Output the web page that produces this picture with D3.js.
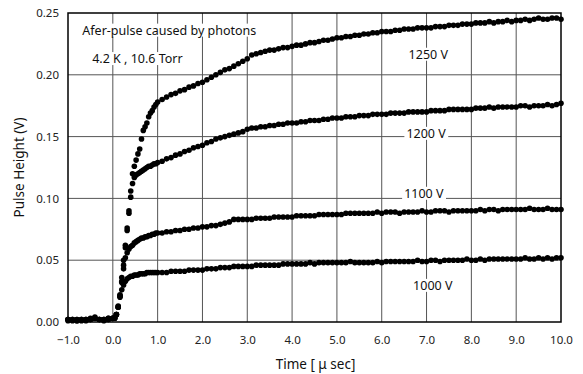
<!DOCTYPE html>
<html>
<head>
<meta charset="utf-8">
<script src="https://cdn.jsdelivr.net/npm/d3@7"></script>
<style>
  body { margin: 0; background: #fff; }
  svg { display: block; font-family: "Noto Sans", "Open Sans", sans-serif; }
</style>
</head>
<body>
<div id="chart"></div>
<script>
// sample times (usec) shared by every trace
const times = [
  -1.0,-0.9,-0.8,-0.7,-0.6,-0.5,-0.4,-0.3,-0.2,-0.1,0.0,
  0.04,0.08,0.12,0.16,0.20,0.24,0.28,0.32,0.36,0.40,0.44,0.48,0.52,0.56,0.60,
  0.64,0.68,0.72,0.76,0.80,0.84,0.88,0.92,0.96,1.00,
  1.1,1.2,1.3,1.4,1.5,1.6,1.7,1.8,1.9,2.0,
  2.1,2.2,2.3,2.4,2.5,2.6,2.7,2.8,2.9,3.0,
  3.1,3.2,3.3,3.4,3.5,3.6,3.7,3.8,3.9,4.0,
  4.1,4.2,4.3,4.4,4.5,4.6,4.7,4.8,4.9,5.0,
  5.1,5.2,5.3,5.4,5.5,5.6,5.7,5.8,5.9,6.0,
  6.1,6.2,6.3,6.4,6.5,6.6,6.7,6.8,6.9,7.0,
  7.1,7.2,7.3,7.4,7.5,7.6,7.7,7.8,7.9,8.0,
  8.1,8.2,8.3,8.4,8.5,8.6,8.7,8.8,8.9,9.0,
  9.1,9.2,9.3,9.4,9.5,9.6,9.7,9.8,9.9,10.0
];

// pulse height (V) for each voltage
const v1250 = [
  0.002,0.002,0.001,0.002,0.002,0.003,0.004,0.002,0.002,0.003,0.003,
  0.003,0.006,0.013,0.022,0.036,0.050,0.062,0.076,0.090,0.106,0.120,0.126,0.131,0.136,0.140,
  0.148,0.155,0.158,0.161,0.166,0.169,0.171,0.174,0.176,0.178,
  0.180,0.182,0.184,0.185,0.187,0.188,0.190,0.191,0.193,0.194,
  0.196,0.198,0.200,0.202,0.204,0.205,0.207,0.209,0.211,0.213,
  0.216,0.217,0.218,0.219,0.220,0.220,0.221,0.222,0.222,0.223,
  0.224,0.224,0.225,0.226,0.226,0.227,0.228,0.228,0.229,0.230,
  0.230,0.231,0.231,0.232,0.232,0.233,0.233,0.234,0.234,0.235,
  0.235,0.235,0.236,0.236,0.237,0.237,0.237,0.238,0.238,0.238,
  0.238,0.239,0.239,0.239,0.240,0.240,0.240,0.241,0.241,0.241,
  0.242,0.242,0.242,0.243,0.242,0.243,0.243,0.244,0.243,0.244,
  0.244,0.245,0.244,0.245,0.246,0.245,0.245,0.246,0.246,0.245
];
const v1200 = [
  0.002,0.001,0.002,0.002,0.001,0.002,0.003,0.002,0.002,0.002,0.003,
  0.003,0.006,0.012,0.021,0.033,0.046,0.060,0.074,0.088,0.101,0.112,0.117,0.119,0.120,0.121,
  0.122,0.123,0.124,0.125,0.126,0.126,0.127,0.128,0.128,0.129,
  0.130,0.132,0.133,0.135,0.136,0.138,0.139,0.141,0.142,0.143,
  0.145,0.146,0.148,0.149,0.150,0.151,0.152,0.153,0.154,0.156,
  0.157,0.157,0.158,0.158,0.159,0.159,0.160,0.160,0.161,0.161,
  0.161,0.162,0.162,0.163,0.163,0.163,0.164,0.164,0.165,0.165,
  0.165,0.166,0.166,0.166,0.167,0.167,0.167,0.168,0.168,0.168,
  0.168,0.169,0.169,0.169,0.169,0.170,0.170,0.170,0.170,0.170,
  0.171,0.171,0.171,0.171,0.172,0.172,0.172,0.172,0.172,0.172,
  0.173,0.173,0.173,0.174,0.173,0.174,0.174,0.174,0.174,0.174,
  0.175,0.175,0.174,0.175,0.175,0.175,0.176,0.175,0.176,0.177
];
const v1100 = [
  0.001,0.002,0.002,0.001,0.002,0.002,0.003,0.002,0.001,0.002,0.003,
  0.003,0.006,0.012,0.021,0.032,0.043,0.052,0.056,0.059,0.061,0.062,0.064,0.065,0.066,0.067,
  0.068,0.068,0.069,0.069,0.070,0.070,0.071,0.071,0.072,0.072,
  0.072,0.073,0.073,0.074,0.074,0.075,0.075,0.076,0.076,0.077,
  0.077,0.078,0.078,0.079,0.080,0.081,0.083,0.083,0.083,0.083,
  0.083,0.084,0.084,0.084,0.084,0.085,0.085,0.085,0.085,0.085,
  0.086,0.086,0.086,0.086,0.086,0.087,0.087,0.087,0.087,0.087,
  0.087,0.088,0.088,0.088,0.088,0.088,0.088,0.088,0.089,0.088,
  0.089,0.089,0.089,0.088,0.089,0.089,0.089,0.089,0.090,0.089,
  0.089,0.090,0.090,0.090,0.089,0.090,0.090,0.090,0.090,0.090,
  0.090,0.091,0.090,0.091,0.091,0.090,0.091,0.091,0.091,0.091,
  0.091,0.091,0.092,0.091,0.091,0.091,0.092,0.091,0.091,0.091
];
const v1000 = [
  0.002,0.002,0.001,0.002,0.002,0.002,0.003,0.002,0.002,0.003,0.003,
  0.003,0.006,0.012,0.020,0.026,0.030,0.033,0.035,0.036,0.037,0.037,0.038,0.038,0.038,0.039,
  0.039,0.039,0.039,0.040,0.040,0.040,0.040,0.040,0.040,0.040,
  0.040,0.040,0.041,0.041,0.041,0.041,0.042,0.042,0.042,0.042,
  0.043,0.043,0.043,0.044,0.044,0.044,0.045,0.045,0.045,0.045,
  0.045,0.046,0.046,0.046,0.046,0.046,0.046,0.047,0.047,0.047,
  0.047,0.047,0.047,0.048,0.047,0.048,0.048,0.048,0.048,0.048,
  0.048,0.048,0.049,0.048,0.048,0.048,0.048,0.048,0.049,0.048,
  0.049,0.049,0.049,0.049,0.049,0.049,0.049,0.050,0.049,0.049,
  0.050,0.050,0.049,0.050,0.050,0.050,0.050,0.050,0.051,0.050,
  0.050,0.051,0.050,0.051,0.051,0.051,0.051,0.051,0.051,0.051,
  0.051,0.052,0.051,0.051,0.052,0.051,0.052,0.051,0.052,0.052
];

const xTicks = [-1,0,1,2,3,4,5,6,7,8,9,10];
const yTicks = [0,0.05,0.10,0.15,0.20,0.25];

// voltage labels: [text, time, value]
const seriesLabels = [
  ['1250 V', 6.6, 0.213],
  ['1200 V', 6.55, 0.149],
  ['1100 V', 6.5, 0.1005],
  ['1000 V', 6.7, 0.026]
];

const width = 583;
const height = 374;
const margin = { left: 68, right: 22, top: 13, bottom: 52 };
const fontFam = '"Noto Sans", "Open Sans", sans-serif';

const svg = d3.select('#chart').append('svg')
  .attr('width', width)
  .attr('height', height);

const x = d3.scaleLinear().domain([-1, 10]).range([margin.left, width - margin.right]);
const y = d3.scaleLinear().domain([0, 0.25]).range([height - margin.bottom, margin.top]);

// grid
svg.append('g')
  .selectAll('line.vg')
  .data(xTicks.slice(1, -1))
  .enter().append('line')
  .attr('x1', d => x(d)).attr('x2', d => x(d))
  .attr('y1', y(0.25)).attr('y2', y(0))
  .style('stroke', '#555').style('stroke-width', 1);

svg.append('g')
  .selectAll('line.hg')
  .data(yTicks.slice(1, -1))
  .enter().append('line')
  .attr('x1', x(-1)).attr('x2', x(10))
  .attr('y1', d => y(d)).attr('y2', d => y(d))
  .style('stroke', '#555').style('stroke-width', 1);

// axes (labels only, grid does the rest)
const xAxis = svg.append('g')
  .attr('transform', `translate(0,${y(0)})`)
  .call(d3.axisBottom(x).tickValues(xTicks).tickSize(0).tickPadding(14).tickFormat(d3.format('.1f')));
const yAxis = svg.append('g')
  .attr('transform', `translate(${x(-1)},0)`)
  .call(d3.axisLeft(y).tickValues(yTicks).tickSize(0).tickPadding(9).tickFormat(d3.format('.2f')));

[xAxis, yAxis].forEach(a => {
  a.select('.domain').remove();
  a.selectAll('text')
    .style('font-family', fontFam)
    .style('font-size', '11.5px')
    .style('fill', '#222');
});

function boxedText(t, px, py, size) {
  const g = svg.append('g');
  const txt = g.append('text')
    .attr('x', px).attr('y', py)
    .text(t)
    .style('font-size', size)
    .style('fill', '#111');
  const b = txt.node().getBBox();
  g.insert('rect', 'text')
    .attr('x', b.x - 2).attr('y', b.y + 2)
    .attr('width', b.width + 4).attr('height', b.height - 4)
    .style('fill', '#fff');
}

// labels on the lines (white box hides the grid under them)
seriesLabels.forEach(([t, tx, ty]) => boxedText(t, x(tx), y(ty), '12.5px'));

// top-left notes
const notes = [
  ['Afer-pulse caused by photons', -0.68, 0.2325],
  ['4.2 K , 10.6 Torr', -0.46, 0.2095]
];
notes.forEach(([t, tx, ty]) => boxedText(t, x(tx), y(ty), '12.5px'));

// data points
const series = [v1000, v1100, v1200, v1250];
series.forEach(vals => {
  svg.append('g')
    .selectAll('circle')
    .data(times.map((t, i) => [t, vals[i]]))
    .enter().append('circle')
    .attr('cx', d => x(d[0]))
    .attr('cy', d => y(d[1]))
    .attr('r', 2.8)
    .style('fill', '#000');
});

// frame
svg.append('rect')
  .attr('x', x(-1)).attr('y', y(0.25))
  .attr('width', x(10) - x(-1))
  .attr('height', y(0) - y(0.25))
  .style('fill', 'none')
  .style('stroke', '#000')
  .style('stroke-width', 1.5);

// axis titles
svg.append('text')
  .attr('x', (x(-1) + x(10)) / 2 + 1)
  .attr('y', 369)
  .attr('text-anchor', 'middle')
  .style('font-size', '13.5px')
  .style('fill', '#111')
  .text('Time [ \u03bc sec]');

svg.append('text')
  .attr('transform', `translate(24,${(y(0) + y(0.25)) / 2}) rotate(-90)`)
  .attr('text-anchor', 'middle')
  .style('font-size', '13.5px')
  .style('fill', '#111')
  .text('Pulse Height (V)');
</script>
</body>
</html>
